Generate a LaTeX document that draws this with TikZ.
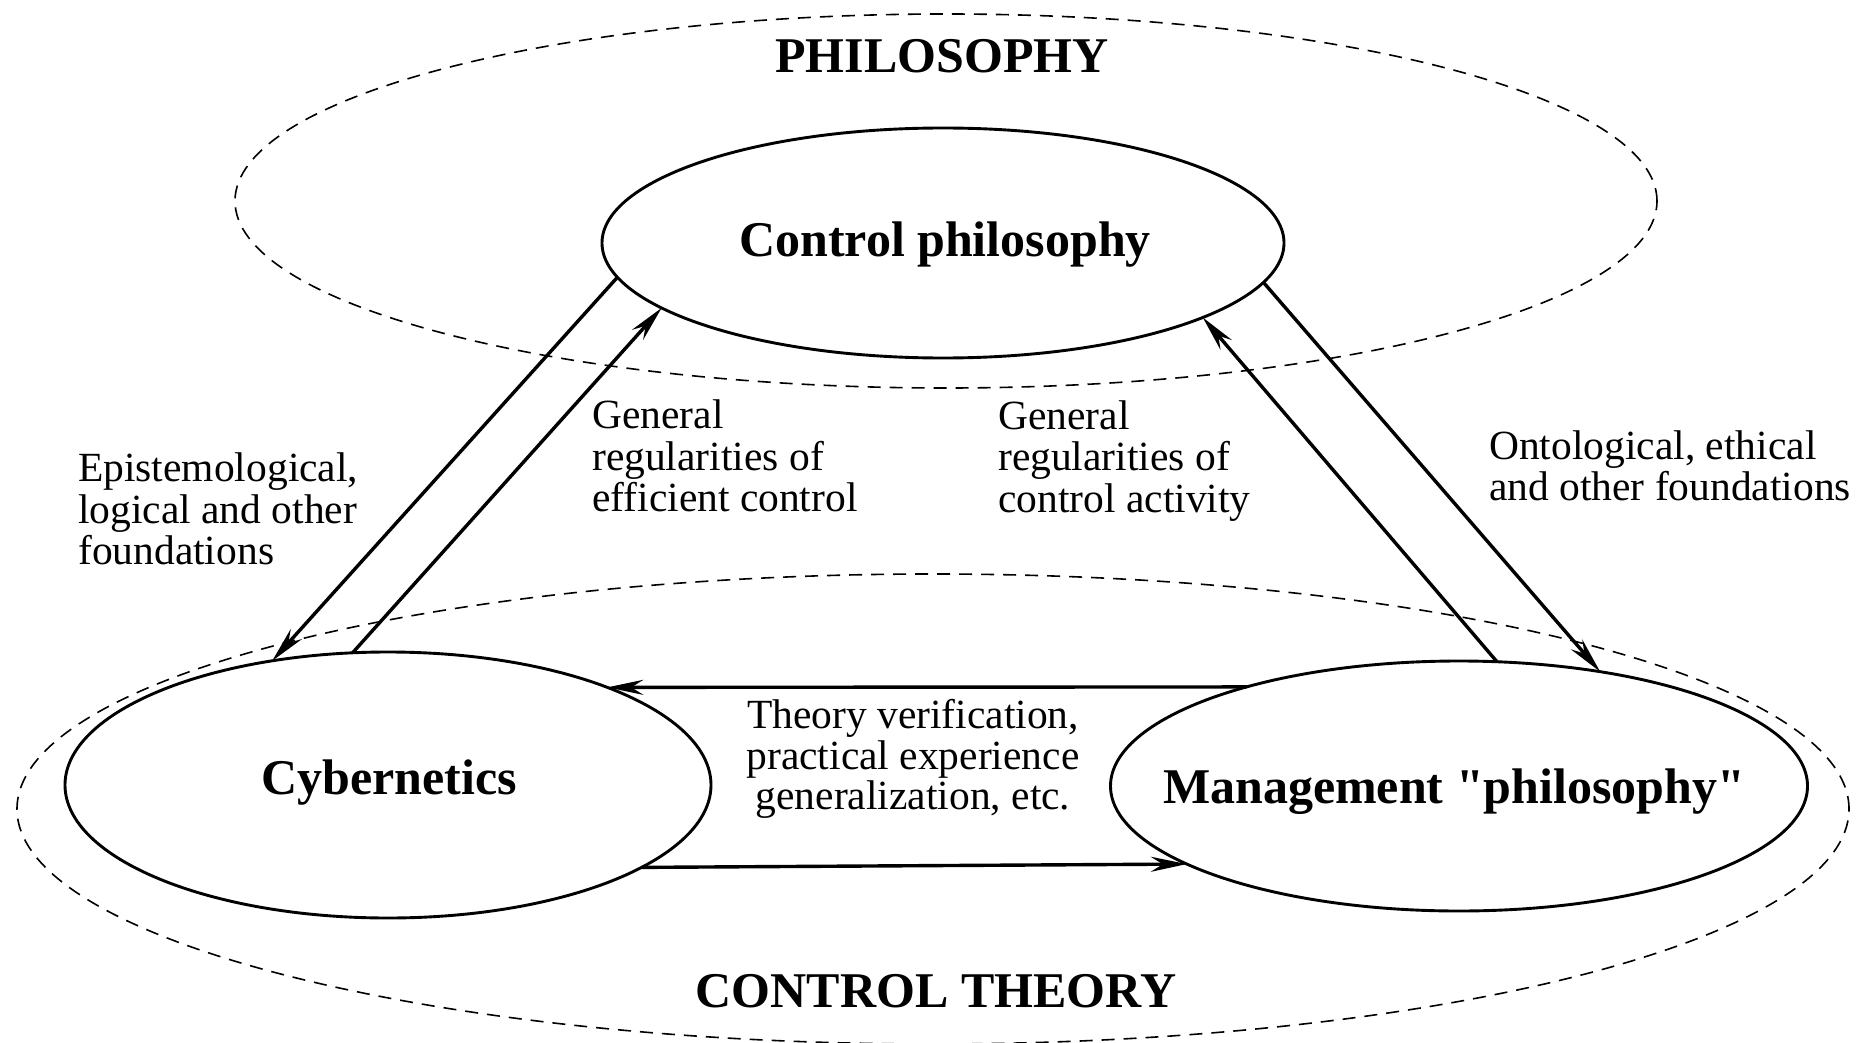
\documentclass[tikz,border=0pt]{standalone}
\usepackage{fontspec}
\setmainfont{Liberation Serif}[Ligatures=TeXOff]
\usetikzlibrary{shapes.geometric,arrows.meta}

\begin{document}
\begin{tikzpicture}[x=1pt,y=-1pt,
  area/.style={draw,ellipse,dash pattern=on 13pt off 9pt,line width=1.6pt,inner sep=0pt,outer sep=0pt},
  field/.style={draw,ellipse,line width=2.9pt,inner sep=0pt,outer sep=0pt},
  fieldname/.style={font=\fontsize{50}{52}\selectfont\bfseries,inner sep=0pt},
  link/.style={-{Stealth[length=36pt,width=15pt,inset=12pt]},line width=3.4pt},
  note/.style={font=\fontsize{41.5}{41.5}\selectfont,inner sep=0pt},
  areaname/.style={font=\fontsize{50}{52}\selectfont\bfseries,inner sep=0pt}]
\useasboundingbox (0,0) rectangle (1865,1043);

% the two areas
\node[area,minimum width=1422pt,minimum height=374pt] (phil) at (946,201) {};
\node[area,minimum width=1832pt,minimum height=470pt] (theory) at (933,809) {};
\node[areaname] (philname) at (942,56) {PHILOSOPHY};
\node[areaname] (theoryname) at (936,991) {CONTROL THEORY};

% the three fields
\node[field,minimum width=682pt,minimum height=230pt] (ctrl) at (943,243) {};
\node[field,minimum width=646pt,minimum height=266pt] (cyb) at (388,785) {};
\node[field,minimum width=697pt,minimum height=250pt] (mgmt) at (1459,786) {};
\node[fieldname] (ctrlname) at (945,245) {Control philosophy};
\node[fieldname] (cybname) at (389,783) {Cybernetics};
\node[fieldname] (mgmtname) at (1454,792) {Management "philosophy"};

% links
\draw[link] (ctrl.186) -- (cyb.133);
\draw[link] (cyb.105) -- (ctrl.193);
\draw[link] (mgmt.73) -- (ctrl.344);
\draw[link] (ctrl.353) -- (mgmt.39);
\draw[link] (mgmt.155.05) -- (cyb.24.2);
\draw[link] (cyb.342.1) -- (mgmt.196.97);

% labels
\node[note,anchor=west,align=left] (epist) at (78,509) {Epistemological,\\logical and other\\foundations};
\node[note,anchor=west,align=left] (effic) at (592,456) {General\\regularities of\\efficient control};
\node[note,anchor=west,align=left] (activ) at (998,461) {General\\regularities of\\control activity};
\node[note,anchor=west,align=left] (ontol) at (1489,466) {Ontological, ethical\\and other foundations};
\node[note,align=center,font=\fontsize{41.5}{40.8}\selectfont] (verif) at (913,759) {Theory verification,\\practical experience\\generalization, etc.};
\end{tikzpicture}
\end{document}
